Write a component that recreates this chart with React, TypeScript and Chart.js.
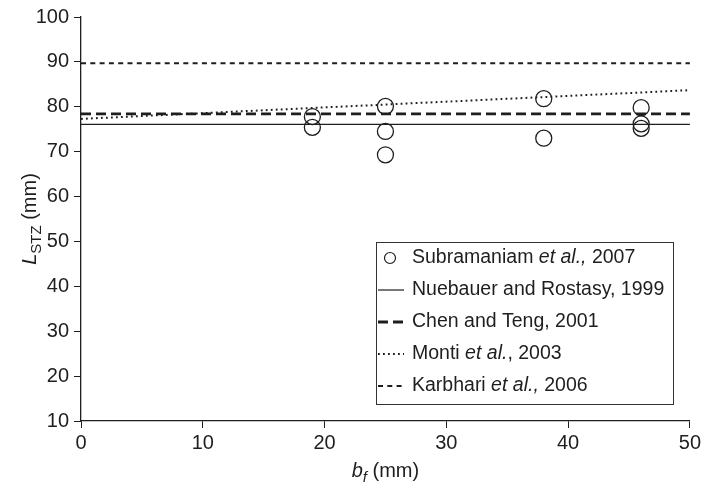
import React, { useEffect, useRef } from 'react';
import { Chart, registerables } from 'chart.js';
Chart.register(...registerables);

// ---- data ----
const lineX = [0, 50];
const expX = [19, 19, 25, 25, 25, 38, 38, 46, 46, 46];
const expY = [77.8, 75.4, 80.1, 74.5, 69.3, 81.8, 73.0, 79.8, 76.2, 75.2];
const neubauerY = [76.1, 76.1];
const chenTengY = [78.4, 78.4];
const montiY = [77.3, 83.7];
const karbhariY = [89.7, 89.7];
const xTicks = [0, 10, 20, 30, 40, 50];
const yTicks = [10, 20, 30, 40, 50, 60, 70, 80, 90, 100];

type Seg = { t: string; i?: boolean };
const legendLabels: Seg[][] = [
  [{ t: 'Subramaniam ' }, { t: 'et al.,', i: true }, { t: ' 2007' }],
  [{ t: 'Nuebauer and Rostasy, 1999' }],
  [{ t: 'Chen and Teng, 2001' }],
  [{ t: 'Monti ' }, { t: 'et al.', i: true }, { t: ', 2003' }],
  [{ t: 'Karbhari ' }, { t: 'et al.,', i: true }, { t: ' 2006' }],
];

const FONT = '"Liberation Sans", Arial, Helvetica, sans-serif';
const INK = '#1e1e1e';

const toPts = (xs: number[], ys: number[]) => xs.map((x, k) => ({ x, y: ys[k] }));

const overlayPlugin = {
  id: 'overlay',
  afterDraw(chart: any) {
    const ctx: CanvasRenderingContext2D = chart.ctx;
    const ca = chart.chartArea;
    ctx.save();
    // ---- legend ----
    const x0 = 376, y0 = 242, x1 = 673, y1 = 404;
    ctx.fillStyle = '#fff';
    ctx.fillRect(x0, y0, x1 - x0, y1 - y0);
    ctx.strokeStyle = '#333';
    ctx.lineWidth = 1;
    ctx.strokeRect(x0 + 0.5, y0 + 0.5, x1 - x0, y1 - y0);
    const rows = [258, 290, 322, 354, 386];
    const ds = chart.data.datasets;
    rows.forEach((ry, k) => {
      const d = ds[k];
      ctx.save();
      if (k === 0) {
        ctx.beginPath();
        ctx.arc(390, ry, 5.5, 0, Math.PI * 2);
        ctx.lineWidth = 1.2;
        ctx.strokeStyle = INK;
        ctx.stroke();
      } else {
        ctx.beginPath();
        ctx.setLineDash(d.borderDash || []);
        ctx.lineWidth = d.borderWidth;
        ctx.strokeStyle = d.borderColor;
        ctx.moveTo(378, ry);
        ctx.lineTo(404, ry);
        ctx.stroke();
      }
      ctx.restore();
      let tx = 412;
      ctx.fillStyle = INK;
      ctx.textBaseline = 'middle';
      legendLabels[k].forEach((s) => {
        ctx.font = `${s.i ? 'italic ' : ''}19.5px ${FONT}`;
        ctx.fillText(s.t, tx, ry);
        tx += ctx.measureText(s.t).width;
      });
    });

    // ---- x axis title ----
    ctx.fillStyle = INK;
    ctx.textBaseline = 'alphabetic';
    const xs: { t: string; f: string; dy: number }[] = [
      { t: 'b', f: `italic 20px ${FONT}`, dy: 0 },
      { t: 'f', f: `italic 15px ${FONT}`, dy: 5 },
      { t: ' (mm)', f: `20px ${FONT}`, dy: 0 },
    ];
    let w = 0;
    xs.forEach((s) => { ctx.font = s.f; w += ctx.measureText(s.t).width; });
    let cx = (ca.left + ca.right) / 2 - w / 2;
    const by = 477;
    xs.forEach((s) => { ctx.font = s.f; ctx.fillText(s.t, cx, by + s.dy); cx += ctx.measureText(s.t).width; });

    // ---- y axis title ----
    ctx.save();
    ctx.translate(36, (ca.top + ca.bottom) / 2);
    ctx.rotate(-Math.PI / 2);
    const ys: { t: string; f: string; dy: number }[] = [
      { t: 'L', f: `italic 20px ${FONT}`, dy: 0 },
      { t: 'STZ', f: `15px ${FONT}`, dy: 5 },
      { t: ' (mm)', f: `20px ${FONT}`, dy: 0 },
    ];
    w = 0;
    ys.forEach((s) => { ctx.font = s.f; w += ctx.measureText(s.t).width; });
    let cy = -w / 2;
    ys.forEach((s) => { ctx.font = s.f; ctx.fillText(s.t, cy, s.dy); cy += ctx.measureText(s.t).width; });
    ctx.restore();

    ctx.restore();
  },
};

export default function App() {
  const ref = useRef<HTMLCanvasElement | null>(null);
  useEffect(() => {
    document.body.style.margin = '0';
    if (!ref.current) return;
    const lineDs = (label: string, ys: number[], dash: number[], width: number) => ({
      type: 'line' as const,
      label,
      data: toPts(lineX, ys),
      borderColor: INK,
      borderWidth: width,
      borderDash: dash,
      pointRadius: 0,
      fill: false,
      showLine: true,
    });
    const chart = new Chart(ref.current, {
      type: 'scatter',
      data: {
        datasets: [
          {
            label: 'Subramaniam et al., 2007',
            data: toPts(expX, expY),
            pointStyle: 'circle',
            pointRadius: 8,
            pointBorderWidth: 1.3,
            borderColor: INK,
            backgroundColor: 'rgba(0,0,0,0)',
            pointBackgroundColor: 'rgba(0,0,0,0)',
            showLine: false,
          } as any,
          lineDs('Nuebauer and Rostasy, 1999', neubauerY, [], 1.2),
          lineDs('Chen and Teng, 2001', chenTengY, [10, 5], 2.8),
          lineDs('Monti et al., 2003', montiY, [1.8, 3.2], 2),
          lineDs('Karbhari et al., 2006', karbhariY, [5, 4.3], 2.2),
        ],
      },
      options: {
        responsive: false,
        animation: false,
        layout: { padding: { top: 15, right: 14, left: 0, bottom: 0 } },
        plugins: { legend: { display: false }, tooltip: { enabled: false } },
        scales: {
          x: {
            type: 'linear',
            min: 0,
            max: 50,
            afterFit: (s: any) => { s.height = 68; },
            afterBuildTicks: (s: any) => { s.ticks = xTicks.map((v) => ({ value: v })); },
            ticks: { color: INK, font: { family: FONT, size: 20 }, padding: 3 },
            grid: { drawOnChartArea: false, drawTicks: true, tickLength: 7, color: INK, lineWidth: 1 },
            border: { display: true, color: INK, width: 1.3 },
          },
          y: {
            type: 'linear',
            min: 10,
            max: 100,
            afterFit: (s: any) => { s.width = 81; },
            afterBuildTicks: (s: any) => { s.ticks = yTicks.map((v) => ({ value: v })); },
            ticks: { color: INK, font: { family: FONT, size: 20 }, padding: 5 },
            grid: { drawOnChartArea: false, drawTicks: true, tickLength: 7, color: INK, lineWidth: 1 },
            border: { display: true, color: INK, width: 1.3 },
          },
        },
      },
      plugins: [overlayPlugin],
    });
    return () => chart.destroy();
  }, []);
  return (
    <div style={{ position: 'absolute', left: 0, top: 0, width: 704, height: 489, background: '#fff' }}>
      <canvas ref={ref} width={704} height={489} />
    </div>
  );
}
